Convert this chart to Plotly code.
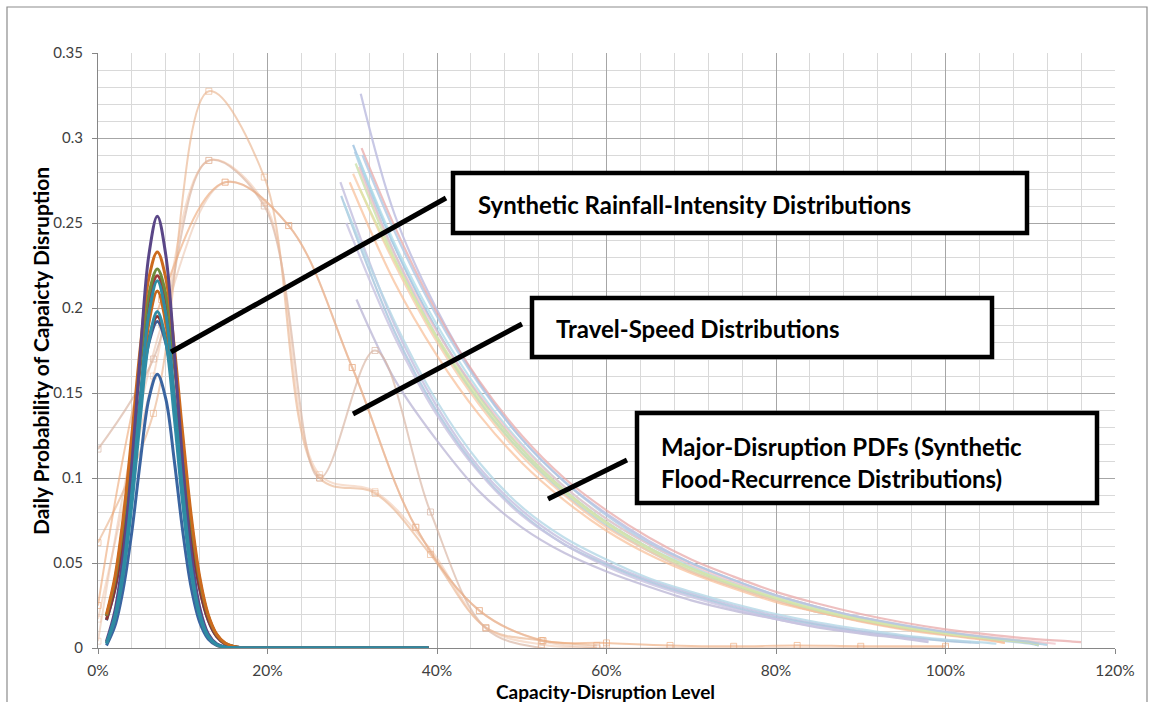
import plotly.graph_objects as go

# ---------------- data ----------------
# Synthetic rainfall-intensity distributions (x = capacity-disruption level)
RAIN_X = [0.01, 0.02, 0.03, 0.04, 0.05, 0.06, 0.07, 0.08, 0.09, 0.10, 0.11, 0.12,
          0.13, 0.14, 0.15, 0.16, 0.17, 0.18, 0.20, 0.25, 0.30, 0.35, 0.39]
rain_purple = [0.004, 0.022, 0.0559, 0.1085, 0.1740, 0.2311, 0.254, 0.2311, 0.1740, 0.1085, 0.0559, 0.0239,
               0.0084, 0.0025, 0.0006, 0.0001, 0, 0, 0, 0, 0, 0, 0]
rain_orange = [0.0198, 0.0419, 0.0778, 0.1258, 0.1771, 0.2176, 0.233, 0.2176, 0.1771, 0.1258, 0.0778, 0.0419,
               0.0198, 0.0082, 0.0029, 0.0009, 0.0002, 0.0001, 0, 0, 0, 0, 0]
rain_green = [0.019, 0.040, 0.0745, 0.1204, 0.1695, 0.2083, 0.223, 0.2083, 0.1695, 0.1204, 0.0745, 0.040,
              0.019, 0.0078, 0.0028, 0.0009, 0.0002, 0.0001, 0, 0, 0, 0, 0]
rain_red = [0.0186, 0.0394, 0.0731, 0.1183, 0.1664, 0.2045, 0.219, 0.2045, 0.1664, 0.1183, 0.0731, 0.0394,
            0.0186, 0.0077, 0.0027, 0.0009, 0.0002, 0.0001, 0, 0, 0, 0, 0]
rain_teal = [0.003, 0.019, 0.0475, 0.0922, 0.1480, 0.1966, 0.216, 0.1966, 0.1480, 0.0922, 0.0475, 0.0203,
             0.0071, 0.0021, 0.0005, 0.0001, 0, 0, 0, 0, 0, 0, 0]
rain_orange2 = [0.003, 0.018, 0.0462, 0.0897, 0.1439, 0.1911, 0.210, 0.1911, 0.1439, 0.0897, 0.0462, 0.0197,
                0.0069, 0.0020, 0.0005, 0.0001, 0, 0, 0, 0, 0, 0, 0]
rain_teal2 = [0.0025, 0.017, 0.0436, 0.0845, 0.1356, 0.1802, 0.198, 0.1802, 0.1356, 0.0845, 0.0436, 0.0186,
              0.0065, 0.0019, 0.0005, 0.0001, 0, 0, 0, 0, 0, 0, 0]
rain_darkred = [0.0166, 0.0351, 0.0651, 0.1053, 0.1482, 0.1821, 0.195, 0.1821, 0.1482, 0.1053, 0.0651, 0.0351,
                0.0166, 0.0068, 0.0024, 0.0008, 0.0002, 0.0001, 0, 0, 0, 0, 0]
rain_navy = [0.0163, 0.0346, 0.0641, 0.1037, 0.1459, 0.1793, 0.192, 0.1793, 0.1459, 0.1037, 0.0641, 0.0346,
             0.0163, 0.0067, 0.0024, 0.0007, 0.0002, 0.0001, 0, 0, 0, 0, 0]
rain_blue = [0.0015, 0.013, 0.0354, 0.0687, 0.1103, 0.1465, 0.161, 0.1465, 0.1103, 0.0687, 0.0354, 0.0151,
             0.0053, 0.0016, 0.0004, 0.0001, 0, 0, 0, 0, 0, 0, 0]

# Travel-speed distributions
SPEED_X_A = [0.0, 0.0654, 0.1308, 0.1962, 0.2615, 0.3269, 0.3923, 0.4577, 0.5231, 0.5885]
SPEED_X_B = [0.0, 0.075, 0.15, 0.225, 0.30, 0.375, 0.45, 0.525, 0.60, 0.675, 0.75, 0.825, 0.90, 1.0]
speed_1 = [0.062, 0.138, 0.3275, 0.277, 0.100, 0.091, 0.055, 0.012, 0.0044, 0.0015]
speed_2 = [0.117, 0.170, 0.2868, 0.260, 0.100, 0.175, 0.080, 0.0115, 0.0, 0.0]
speed_3 = [0.025, 0.205, 0.274, 0.2485, 0.165, 0.071, 0.022, 0.0044, 0.003, 0.0015, 0.001, 0.0015, 0.001, 0.001]
speed_4 = [0.017, 0.160, 0.2868, 0.262, 0.102, 0.092, 0.058, 0.012, 0.002, 0.0]
speed_5 = [0.004, 0.190, 0.274, 0.2485, 0.165, 0.071, 0.022, 0.004, 0.0, 0.0, 0.0, 0.0, 0.0, 0.0]

# Major-disruption PDFs (synthetic flood-recurrence distributions)
G = [0.35, 0.40, 0.45, 0.50, 0.55, 0.60, 0.65, 0.70, 0.75, 0.80, 0.85, 0.90, 0.95, 1.00]
flood_x = {
    "f1": [0.310] + G + [1.05, 1.10, 1.12],
    "f2": [0.311] + G + [1.05, 1.10, 1.15, 1.16],
    "f3": [0.301] + G + [1.05, 1.10, 1.11],
    "f4": [0.303] + G + [1.05, 1.10, 1.11],
    "f5": [0.306] + G + [1.05, 1.10, 1.12],
    "f6": [0.301] + G + [1.05, 1.07],
    "f7": [0.297] + G + [1.05, 1.07],
    "f8": [0.304] + G + [1.05, 1.10, 1.11],
    "f9": [0.308] + G + [1.05, 1.10, 1.13],
    "f10": [0.286] + G + [1.03],
    "f11": [0.287] + G + [1.04],
    "f12": [0.305] + G[:-1] + [0.98],
    "f13": [0.290] + G + [1.05, 1.06],
    "f14": [0.309] + G + [1.05, 1.10, 1.11],
    "f15": [0.312] + G + [1.05, 1.10, 1.11],
    "f16": [0.293] + G[:-1] + [0.98],
}
flood_y = {
    "f1": [0.326, 0.255, 0.199, 0.156, 0.123, 0.098, 0.079, 0.063, 0.050, 0.040, 0.031, 0.024, 0.018, 0.013, 0.009, 0.006, 0.003, 0.002],
    "f2": [0.294, 0.248, 0.197, 0.157, 0.125, 0.100, 0.081, 0.065, 0.052, 0.042, 0.033, 0.026, 0.020, 0.015, 0.011, 0.008, 0.0055, 0.0038, 0.0034],
    "f3": [0.296, 0.236, 0.187, 0.148, 0.117, 0.093, 0.074, 0.059, 0.047, 0.037, 0.029, 0.022, 0.017, 0.012, 0.0085, 0.0055, 0.003, 0.0015],
    "f4": [0.292, 0.232, 0.183, 0.145, 0.115, 0.091, 0.072, 0.057, 0.045, 0.036, 0.028, 0.021, 0.016, 0.0115, 0.008, 0.005, 0.0025, 0.0015],
    "f5": [0.290, 0.238, 0.190, 0.151, 0.120, 0.095, 0.076, 0.061, 0.048, 0.038, 0.030, 0.023, 0.0175, 0.013, 0.009, 0.006, 0.0035, 0.002],
    "f6": [0.279, 0.226, 0.180, 0.143, 0.113, 0.090, 0.071, 0.057, 0.045, 0.036, 0.028, 0.021, 0.016, 0.0115, 0.008, 0.005, 0.003],
    "f7": [0.274, 0.215, 0.172, 0.137, 0.109, 0.087, 0.069, 0.055, 0.044, 0.035, 0.027, 0.021, 0.0155, 0.011, 0.0075, 0.0045, 0.003],
    "f8": [0.285, 0.229, 0.182, 0.145, 0.115, 0.092, 0.073, 0.058, 0.046, 0.037, 0.029, 0.022, 0.0165, 0.012, 0.0085, 0.0055, 0.003, 0.002],
    "f9": [0.283, 0.232, 0.186, 0.149, 0.119, 0.095, 0.076, 0.061, 0.049, 0.039, 0.031, 0.024, 0.018, 0.0135, 0.0095, 0.0065, 0.004, 0.0025],
    "f10": [0.274, 0.190, 0.142, 0.106, 0.081, 0.063, 0.050, 0.040, 0.032, 0.025, 0.019, 0.014, 0.010, 0.007, 0.0045, 0.0035],
    "f11": [0.266, 0.186, 0.139, 0.104, 0.079, 0.061, 0.049, 0.039, 0.031, 0.024, 0.018, 0.0135, 0.0095, 0.0065, 0.0042, 0.003],
    "f12": [0.205, 0.158, 0.122, 0.092, 0.071, 0.056, 0.045, 0.036, 0.028, 0.022, 0.017, 0.012, 0.0085, 0.0055, 0.0034],
    "f13": [0.262, 0.192, 0.145, 0.109, 0.083, 0.065, 0.052, 0.041, 0.033, 0.026, 0.020, 0.015, 0.011, 0.0075, 0.005, 0.003, 0.0025],
    "f14": [0.270, 0.228, 0.183, 0.147, 0.117, 0.093, 0.074, 0.059, 0.047, 0.0375, 0.0295, 0.0225, 0.017, 0.0125, 0.0088, 0.0058, 0.0033, 0.002],
    "f15": [0.290, 0.245, 0.195, 0.155, 0.123, 0.098, 0.078, 0.062, 0.050, 0.040, 0.031, 0.024, 0.018, 0.0135, 0.0095, 0.0062, 0.0035, 0.0025],
    "f16": [0.250, 0.183, 0.137, 0.103, 0.078, 0.061, 0.048, 0.038, 0.030, 0.023, 0.017, 0.0125, 0.009, 0.006, 0.0045],
}
flood_colors = {
    "f1": "rgba(190,190,225,0.85)", "f2": "rgba(232,170,170,0.75)", "f3": "rgba(160,195,225,0.85)",
    "f4": "rgba(175,205,230,0.8)", "f5": "rgba(175,220,232,0.8)", "f6": "rgba(248,200,165,0.75)",
    "f7": "rgba(248,190,150,0.7)", "f8": "rgba(205,225,170,0.8)", "f9": "rgba(240,190,195,0.7)",
    "f10": "rgba(195,190,222,0.8)", "f11": "rgba(170,200,222,0.85)", "f12": "rgba(185,180,212,0.75)",
    "f13": "rgba(180,215,230,0.8)", "f14": "rgba(218,230,165,0.8)", "f15": "rgba(175,200,228,0.8)",
    "f16": "rgba(200,195,225,0.8)",
}

Y_TICKS = [0, 0.05, 0.1, 0.15, 0.2, 0.25, 0.3, 0.35]
X_TICKS = [0, 0.2, 0.4, 0.6, 0.8, 1.0, 1.2]

# ---------------- figure ----------------
W, H = 1154, 702
ML, MR, MT, MB = 98, 39, 53, 54
PW, PH = W - ML - MR, H - MT - MB


def fx(p):
    return (p - ML) / PW


def fy(p):
    return (H - MB - p) / PH


fig = go.Figure()

for key in flood_x:
    fig.add_trace(go.Scatter(
        x=flood_x[key], y=flood_y[key], mode="lines", line_shape="spline",
        line=dict(color=flood_colors[key], width=2.2), hoverinfo="skip"))

speed_series = [
    (SPEED_X_A, speed_1, "rgba(232,175,135,0.6)"),
    (SPEED_X_A, speed_2, "rgba(215,178,160,0.65)"),
    (SPEED_X_B, speed_3, "rgba(236,165,115,0.6)"),
    (SPEED_X_A, speed_4, "rgba(238,185,150,0.45)"),
    (SPEED_X_B, speed_5, "rgba(228,180,150,0.45)"),
]
for sx, sy, col in speed_series:
    fig.add_trace(go.Scatter(
        x=sx, y=sy, mode="lines+markers", line_shape="spline",
        line=dict(color=col, width=2),
        marker=dict(symbol="square-open", size=6, color=col, line=dict(width=1)),
        hoverinfo="skip"))

# later entries are drawn on top
rain_series = [
    (rain_blue, "#3A64A0"), (rain_navy, "#3C5A95"), (rain_darkred, "#8E3431"),
    (rain_orange2, "#C8671A"), (rain_red, "#A0393A"), (rain_green, "#6E8B3D"),
    (rain_orange, "#CC6A1E"), (rain_purple, "#5A4687"),
    (rain_teal2, "#2F8CA5"), (rain_teal, "#2E8BA3"),
]
for ry, col in rain_series:
    fig.add_trace(go.Scatter(
        x=RAIN_X, y=ry, mode="lines", line_shape="spline",
        line=dict(color=col, width=3), hoverinfo="skip"))

# call-out boxes and leader lines (pixel positions converted to paper)
shapes = []
for (x0, y0, x1, y1) in [(453, 173, 1027, 233), (532, 298, 992, 357), (637, 413, 1097, 503)]:
    shapes.append(dict(type="rect", xref="paper", yref="paper",
                       x0=fx(x0), x1=fx(x1), y0=fy(y1), y1=fy(y0),
                       line=dict(color="black", width=4.5), fillcolor="white", layer="above"))
for (x0, y0, x1, y1) in [(446, 198, 171, 352), (522, 324, 353, 414), (627, 460, 548, 499)]:
    shapes.append(dict(type="line", xref="paper", yref="paper",
                       x0=fx(x0), y0=fy(y0), x1=fx(x1), y1=fy(y1),
                       line=dict(color="black", width=5), layer="above"))
# outer chart frame
shapes.append(dict(type="rect", xref="paper", yref="paper",
                   x0=fx(7), x1=fx(1147), y0=fy(720), y1=fy(7),
                   line=dict(color="#8C8C8C", width=1.2), layer="below"))

BOX_FONT = dict(family="Lato", size=24, color="black")
annotations = [
    dict(text="<b>Synthetic Rainfall-Intensity Distributions</b>", x=fx(476), y=fy(204)),
    dict(text="<b>Travel-Speed Distributions</b>", x=fx(554), y=fy(328)),
    dict(text="<b>Major-Disruption PDFs (Synthetic</b>", x=fx(659), y=fy(446)),
    dict(text="<b>Flood-Recurrence Distributions)</b>", x=fx(659), y=fy(478)),
]
for a in annotations:
    a.update(xref="paper", yref="paper", xanchor="left", yanchor="middle",
             showarrow=False, font=BOX_FONT)

annotations.append(dict(text="<b>Capacity-Disruption Level</b>", x=fx(605), y=fy(691),
                        xref="paper", yref="paper", xanchor="center", yanchor="middle",
                        showarrow=False, borderpad=0,
                        font=dict(family="Lato", size=19, color="black")))
annotations.append(dict(text="<b>Daily Probability of Capaicty Disruption</b>", x=fx(40), y=fy(351),
                        xref="paper", yref="paper", xanchor="center", yanchor="middle",
                        textangle=-90, showarrow=False,
                        font=dict(family="Lato", size=21, color="black")))

fig.update_layout(
    width=W, height=H,
    margin=dict(l=ML, r=MR, t=MT, b=MB, pad=0),
    paper_bgcolor="white", plot_bgcolor="white",
    showlegend=False,
    shapes=shapes, annotations=annotations,
    font=dict(family="Lato", color="#404040"),
)
fig.update_xaxes(
    range=[0, 1.2], tickvals=X_TICKS, tickformat=".0%",
    showgrid=True, gridcolor="#A6A6A6", gridwidth=1,
    minor=dict(dtick=0.04, showgrid=True, gridcolor="#D9D9D9", gridwidth=1),
    showline=True, linecolor="#868686", linewidth=1,
    ticks="outside", ticklen=5, tickcolor="#868686",
    tickfont=dict(family="Lato", size=15.5, color="#404040"),
    ticklabelstandoff=3, zeroline=False,
)
fig.update_yaxes(
    range=[0, 0.35], tickvals=Y_TICKS,
    ticktext=["0", "0.05", "0.1", "0.15", "0.2", "0.25", "0.3", "0.35"],
    showgrid=True, gridcolor="#A6A6A6", gridwidth=1,
    minor=dict(dtick=0.01, showgrid=True, gridcolor="#D9D9D9", gridwidth=1),
    showline=True, linecolor="#868686", linewidth=1,
    ticks="outside", ticklen=5, tickcolor="#868686",
    tickfont=dict(family="Lato", size=15, color="#404040"),
    ticklabelstandoff=6, zeroline=False,
)

fig.write_html("out.html")
